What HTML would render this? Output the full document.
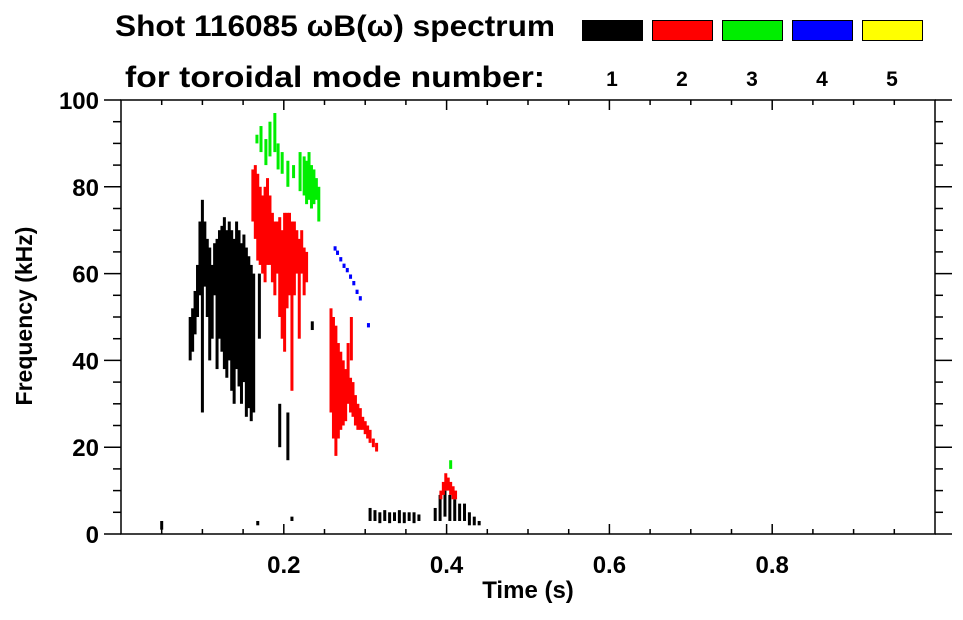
<!DOCTYPE html>
<html><head><meta charset="utf-8"><style>
body{margin:0;background:#fff;font-family:"Liberation Sans",Arial,sans-serif}
svg text{font-family:"Liberation Sans",Arial,sans-serif;font-weight:bold;fill:#000}
</style></head><body>
<svg id="c" width="963" height="615" viewBox="0 0 963 615" xmlns="http://www.w3.org/2000/svg">
<text x="115" y="36" font-size="30" textLength="440" lengthAdjust="spacingAndGlyphs">Shot 116085 ωB(ω) spectrum</text>
<text x="125" y="87" font-size="30" textLength="420" lengthAdjust="spacingAndGlyphs">for toroidal mode number:</text>
<g id="legend"></g>
<g id="plot"></g>
<g id="axes"></g>
<text x="528" y="598" font-size="24" text-anchor="middle">Time (s)</text>
<text transform="translate(32,316) rotate(-90)" font-size="23" text-anchor="middle">Frequency (kHz)</text>
</svg>
<script>
const modeLabels=["1","2","3","4","5"];
const modeColors=["#000000","#ff0000","#00ee00","#0000ff","#ffff00"];
const xTicks=[0.2,0.4,0.6,0.8];
const yTicks=[0,20,40,60,80,100];
const segT=[.085,.088,.091,.094,.097,.100,.103,.106,.109,.112,.115,.118,.121,.124,.127,.130,.133,.136,.139,.142,.145,.148,.151,.154,.157,.160,.163,.17,.195,.205,.235,.05,.168,.21,
.306,.312,.318,.324,.330,.336,.342,.348,.354,.360,.366,.386,.392,.398,.404,.41,.416,.422,.428,.434,.44,
.162,.165,.168,.171,.174,.177,.180,.183,.186,.189,.192,.195,.198,.201,.204,.207,.210,.213,.216,.219,.222,.225,.228,
.258,.261,.264,.267,.270,.273,.276,.279,.282,.285,.288,.291,.294,.297,.300,.303,.306,.310,.314,.283,
.393,.396,.399,.402,.405,.408,.411,
.167,.172,.178,.183,.189,.193,.198,.205,.212,.220,.225,.228,.231,.234,.237,.240,.243,.405,
.263,.266,.270,.274,.278,.282,.286,.290,.294,.304];
const segLo=[40,42,46,50,55,28,57,50,40,45,55,38,45,42,38,36,40,33,30,38,34,30,35,27,29,26,28,45,20,17,47,1,2,3,
3,3,2.5,3,2.5,3,2.5,2.5,3,2.5,3,3,3,4,3,3,3,3,2,2,2,
72,68,63,62,60,58,62,62,58,55,60,50,45,42,52,55,33,55,60,45,60,55,58,
28,22,18,22,24,25,26,30,28,27,25,24,24,24,23,22,21,20,19,40,
8,9,10,10,9,8,8,
90,88,85,87,88,84,83,80,82,79,78,76,77,75,76,77,72,15,
65.3,64.3,62.8,61.3,60.3,58.8,57.3,55.3,53.8,47.6];
const segHi=[50,52,56,62,72,77,72,68,66,62,67,68,70,71,73,70,72,70,68,72,70,67,69,66,64,62,60,60,30,28,49,3,3,4,
6,5.5,5,5.5,5,5,5.5,5,5,5,4.5,6,9,10,9,8,7,7,5,4,3,
84,85,83,80,78,80,82,78,74,72,72,73,70,74,74,74,72,72,70,68,70,66,65,
52,50,48,44,42,40,38,44,36,35,32,30,29,27,26,25,24,22,21,50,
10,12,14,13,12,11,10,
92,94,91,95,97,90,88,86,85,88,87,86,88,85,84,82,80,17,
66.3,65.3,63.8,62.3,61.3,59.8,58.3,56.3,54.8,48.6];
const segMode=[1,1,1,1,1,1,1,1,1,1,1,1,1,1,1,1,1,1,1,1,1,1,1,1,1,1,1,1,1,1,1,1,1,1,
1,1,1,1,1,1,1,1,1,1,1,1,1,1,1,1,1,1,1,1,1,
2,2,2,2,2,2,2,2,2,2,2,2,2,2,2,2,2,2,2,2,2,2,2,
2,2,2,2,2,2,2,2,2,2,2,2,2,2,2,2,2,2,2,2,
2,2,2,2,2,2,2,
3,3,3,3,3,3,3,3,3,3,3,3,3,3,3,3,3,3,
4,4,4,4,4,4,4,4,4,4];
const NS="http://www.w3.org/2000/svg";
const L=121,R=935,T=100,B=534;
const X=t=>L+(R-L)*t/1.0;
const Y=f=>B-(B-T)*f/100;
function mk(tag,attrs,parent){const e=document.createElementNS(NS,tag);for(const k in attrs)e.setAttribute(k,attrs[k]);parent.appendChild(e);return e;}
const plot=document.getElementById('plot'),axes=document.getElementById('axes'),leg=document.getElementById('legend');
for(let i=0;i<segT.length;i++){
  const r=mk('rect',{x:X(segT[i])-1.5,y:Y(segHi[i]),width:3,height:Math.max(1.5,Y(segLo[i])-Y(segHi[i])),fill:modeColors[segMode[i]-1]},plot);
  
  
}
modeLabels.forEach((m,i)=>{
  const bx=582+i*70;
  const r=mk('rect',{x:bx+0.5,y:20.5,width:60,height:20,fill:modeColors[i],stroke:'#000','stroke-width':1},leg);
  
  
  const t=mk('text',{x:bx+30,y:86,'font-size':21,'text-anchor':'middle'},leg);t.textContent=m;
  
  
});
mk('rect',{x:L,y:T,width:R-L,height:B-T,fill:'none',stroke:'#000','stroke-width':1.5},axes);
for(let v=0;v<=100.01;v+=5){
  const y=Y(v),len=(v%20===0)?17:8;
  mk('line',{x1:L-len,x2:L,y1:y,y2:y,stroke:'#000','stroke-width':1.5},axes);
  mk('line',{x1:R,x2:R+len,y1:y,y2:y,stroke:'#000','stroke-width':1.5},axes);
}
for(let v=0.05;v<1;v+=0.05){
  const x=X(v),maj=Math.abs(v*5-Math.round(v*5))<1e-6,len=maj?10:5;
  mk('line',{x1:x,x2:x,y1:B,y2:B-len,stroke:'#000','stroke-width':1.5},axes);
  mk('line',{x1:x,x2:x,y1:T,y2:T+len,stroke:'#000','stroke-width':1.5},axes);
}
yTicks.forEach(v=>{const t=mk('text',{x:99,y:Y(v)+9,'font-size':24,'text-anchor':'end'},axes);t.textContent=String(v);
  
  });
xTicks.forEach(v=>{const t=mk('text',{x:X(v),y:573,'font-size':24,'text-anchor':'middle'},axes);t.textContent=v.toFixed(1);
  
  });
</script>
</body></html>
